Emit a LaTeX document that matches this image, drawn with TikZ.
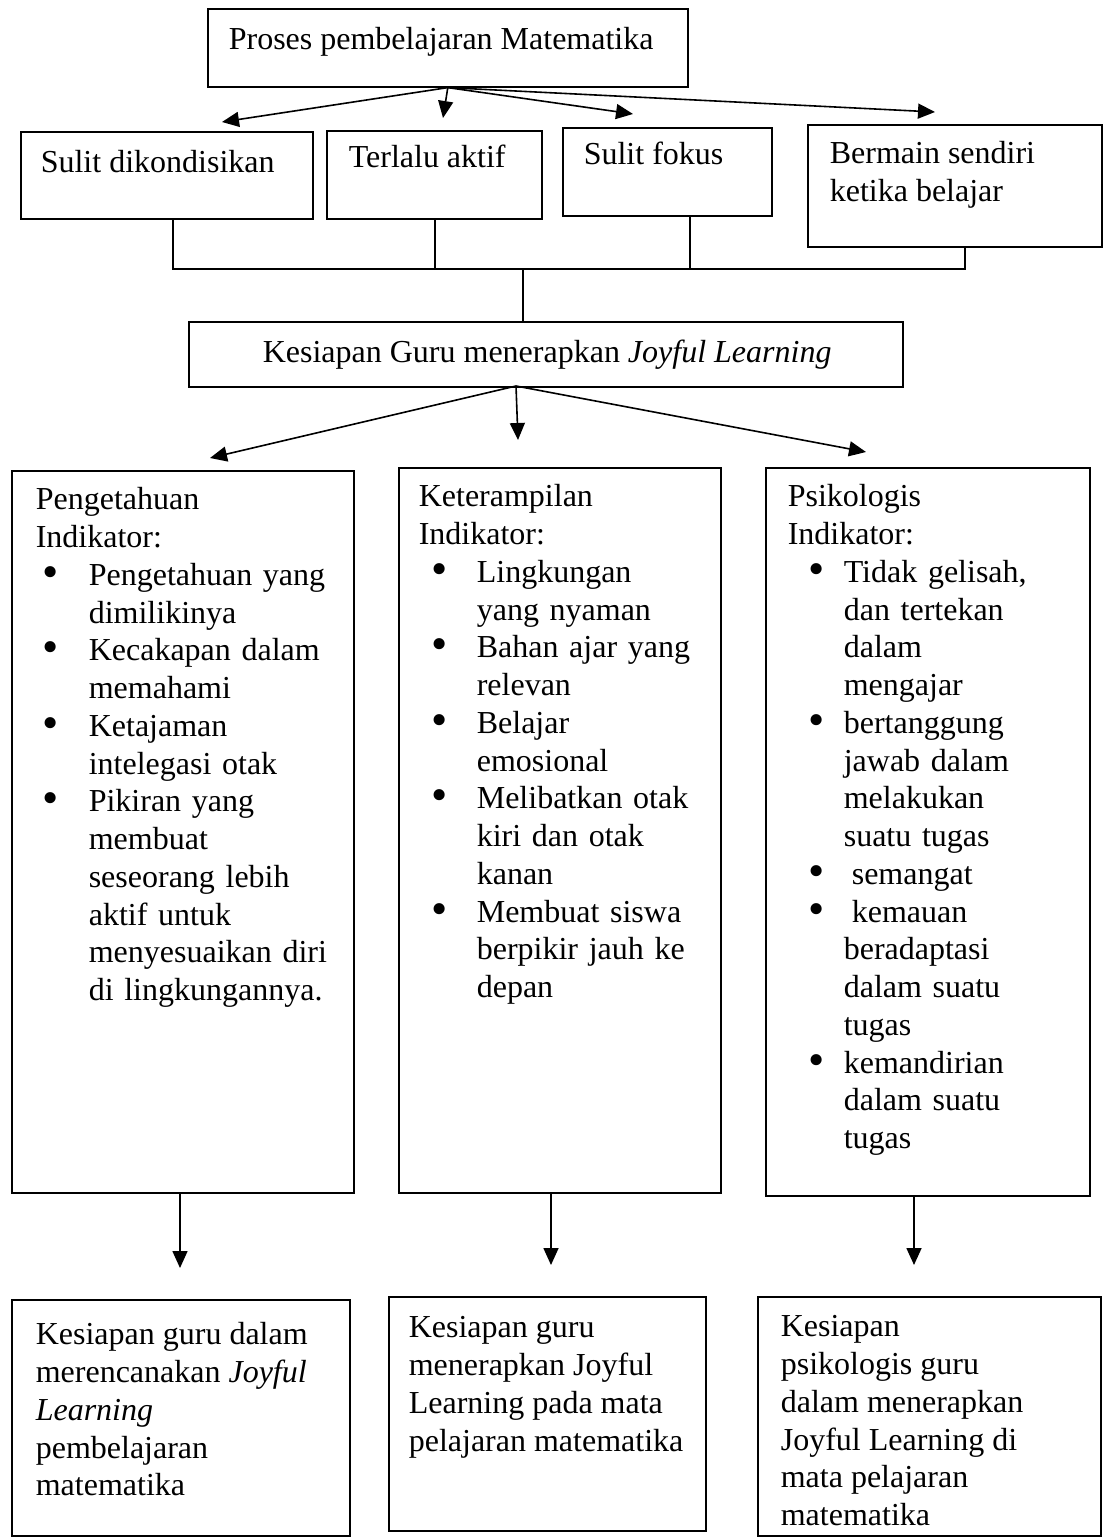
\documentclass[tikz,border=0pt]{standalone}
\usepackage{fontspec}
\setmainfont{Liberation Serif}
\usetikzlibrary{arrows.meta}
\newcommand{\fs}{\fontsize{32}{37.75}\selectfont}
\newlength\bind
\newlength\bhang
\newcommand{\brk}{\hfil\break}
\newcommand{\bul}[1]{\par\hangindent=\bhang\hangafter=1\noindent\hspace*{\bind}%
  \makebox[\dimexpr\bhang-\bind\relax][l]{\raisebox{-2pt}{\scalebox{1.45}{\textbullet}}}%
  {\let\\\brk #1}\par}
\tikzset{
  box/.style={draw, line width=1.6pt, anchor=north west, inner sep=0pt},
  txt/.style={anchor=north west, inner sep=0pt, align=left, font=\fs},
}
\begin{document}
\begin{tikzpicture}[x=1pt, y=-1pt, >={Triangle[length=17pt,width=15pt]}, line width=1.6pt]
\useasboundingbox (0,0) rectangle (1107,1537);
% top box
\node[box, minimum width=480pt, minimum height=78pt] (proses) at (207,8) {};
\node[txt] (prosesText) at (228,25) {\rule{0pt}{24pt}Proses pembelajaran Matematika};
% problems
\node[box, minimum width=292pt, minimum height=87pt] (sulit) at (20,131) {};
\node[txt] (sulitText) at (40,148) {\rule{0pt}{24pt}Sulit dikondisikan};
\node[box, minimum width=215pt, minimum height=88pt] (terlalu) at (326,130) {};
\node[txt] (terlaluText) at (348,143) {\rule{0pt}{24pt}Terlalu aktif};
\node[box, minimum width=209pt, minimum height=88pt] (fokus) at (562,127) {};
\node[txt] (fokusText) at (583,140) {\rule{0pt}{24pt}Sulit fokus};
\node[box, minimum width=294pt, minimum height=122pt] (bermain) at (807,124) {};
\node[txt] (bermainText) at (829,139) {\rule{0pt}{24pt}Bermain sendiri\\ketika belajar};
\coordinate (tip1) at (222,122);
\coordinate (tip2) at (443,118);
\coordinate (tip3) at (633,114);
\coordinate (tip4) at (935,112);
\draw[->] (proses.south) -- (tip1);
\draw[->] (proses.south) -- (tip2);
\draw[->] (proses.south) -- (tip3);
\draw[->] (proses.south) -- (tip4);
% bracket
\coordinate (barA) at (173,269);
\coordinate (barB) at (435,269);
\coordinate (barC) at (690,269);
\coordinate (barD) at (965,269);
\coordinate (join) at (523,269);
\draw (sulit.south -| barA) -- (barA) -- (barD) -- (bermain.south -| barD);
\draw (terlalu.south -| barB) -- (barB);
\draw (fokus.south -| barC) -- (barC);
% readiness
\node[box, minimum width=714pt, minimum height=65pt] (kesiapan) at (188,321) {};
\node[txt] (kesiapanText) at (262,338) {\rule{0pt}{24pt}Kesiapan Guru menerapkan \textit{Joyful Learning}};
\draw (join) -- (join |- kesiapan.north);
\coordinate (fork) at (516,386);
\coordinate (tip5) at (210,458);
\coordinate (tip6) at (518,440);
\coordinate (tip7) at (866,452);
\draw[->] (fork) -- (tip5);
\draw[->] (fork) -- (tip6);
\draw[->] (fork) -- (tip7);
% indicators
\node[box, minimum width=342pt, minimum height=722pt] (peng) at (11,470) {};
\node[txt, text width=315pt] (pengText) at (35,485) {\setlength\bind{7pt}\setlength\bhang{53pt}%
  \rule{0pt}{24pt}Pengetahuan\\Indikator:
  \bul{Pengetahuan yang\\dimilikinya}
  \bul{Kecakapan dalam\\memahami}
  \bul{Ketajaman\\intelegasi otak}
  \bul{Pikiran yang\\membuat\\seseorang lebih\\aktif untuk\\menyesuaikan diri\\di lingkungannya.}};
\node[box, minimum width=322pt, minimum height=725pt] (keter) at (398,467) {};
\node[txt, text width=300pt] (keterText) at (418,482) {\setlength\bind{13pt}\setlength\bhang{58pt}%
  \rule{0pt}{24pt}Keterampilan\\Indikator:
  \bul{Lingkungan\\yang nyaman}
  \bul{Bahan ajar yang\\relevan}
  \bul{Belajar\\emosional}
  \bul{Melibatkan otak\\kiri dan otak\\kanan}
  \bul{Membuat siswa\\berpikir jauh ke\\depan}};
\node[box, minimum width=324pt, minimum height=728pt] (psiko) at (765,467) {};
\node[txt, text width=300pt] (psikoText) at (787,482) {\setlength\bind{21pt}\setlength\bhang{56pt}%
  \rule{0pt}{24pt}Psikologis\\Indikator:
  \bul{Tidak gelisah,\\dan tertekan\\dalam\\mengajar}
  \bul{bertanggung\\jawab dalam\\melakukan\\suatu tugas}
  \bul{\hspace*{8pt}semangat}
  \bul{\hspace*{8pt}kemauan\\beradaptasi\\dalam suatu\\tugas}
  \bul{kemandirian\\dalam suatu\\tugas}};
% outcomes
\coordinate (tip8) at (180,1268);
\coordinate (tip9) at (551,1265);
\coordinate (tip10) at (914,1265);
\draw[->] (tip8 |- peng.south) -- (tip8);
\draw[->] (tip9 |- keter.south) -- (tip9);
\draw[->] (tip10 |- psiko.south) -- (tip10);
\node[box, minimum width=338pt, minimum height=236pt] (hasilA) at (11,1299) {};
\node[txt] (hasilAText) at (35,1320) {\rule{0pt}{24pt}Kesiapan guru dalam\\merencanakan \textit{Joyful}\\\textit{Learning}\\pembelajaran\\matematika};
\node[box, minimum width=317pt, minimum height=234pt] (hasilB) at (388,1296) {};
\node[txt] (hasilBText) at (408,1313) {\rule{0pt}{24pt}Kesiapan guru\\menerapkan Joyful\\Learning pada mata\\pelajaran matematika};
\node[box, minimum width=343pt, minimum height=239pt] (hasilC) at (757,1296) {};
\node[txt] (hasilCText) at (780,1312) {\rule{0pt}{24pt}Kesiapan\\psikologis guru\\dalam menerapkan\\Joyful Learning di\\mata pelajaran\\matematika};
\end{tikzpicture}
\end{document}
